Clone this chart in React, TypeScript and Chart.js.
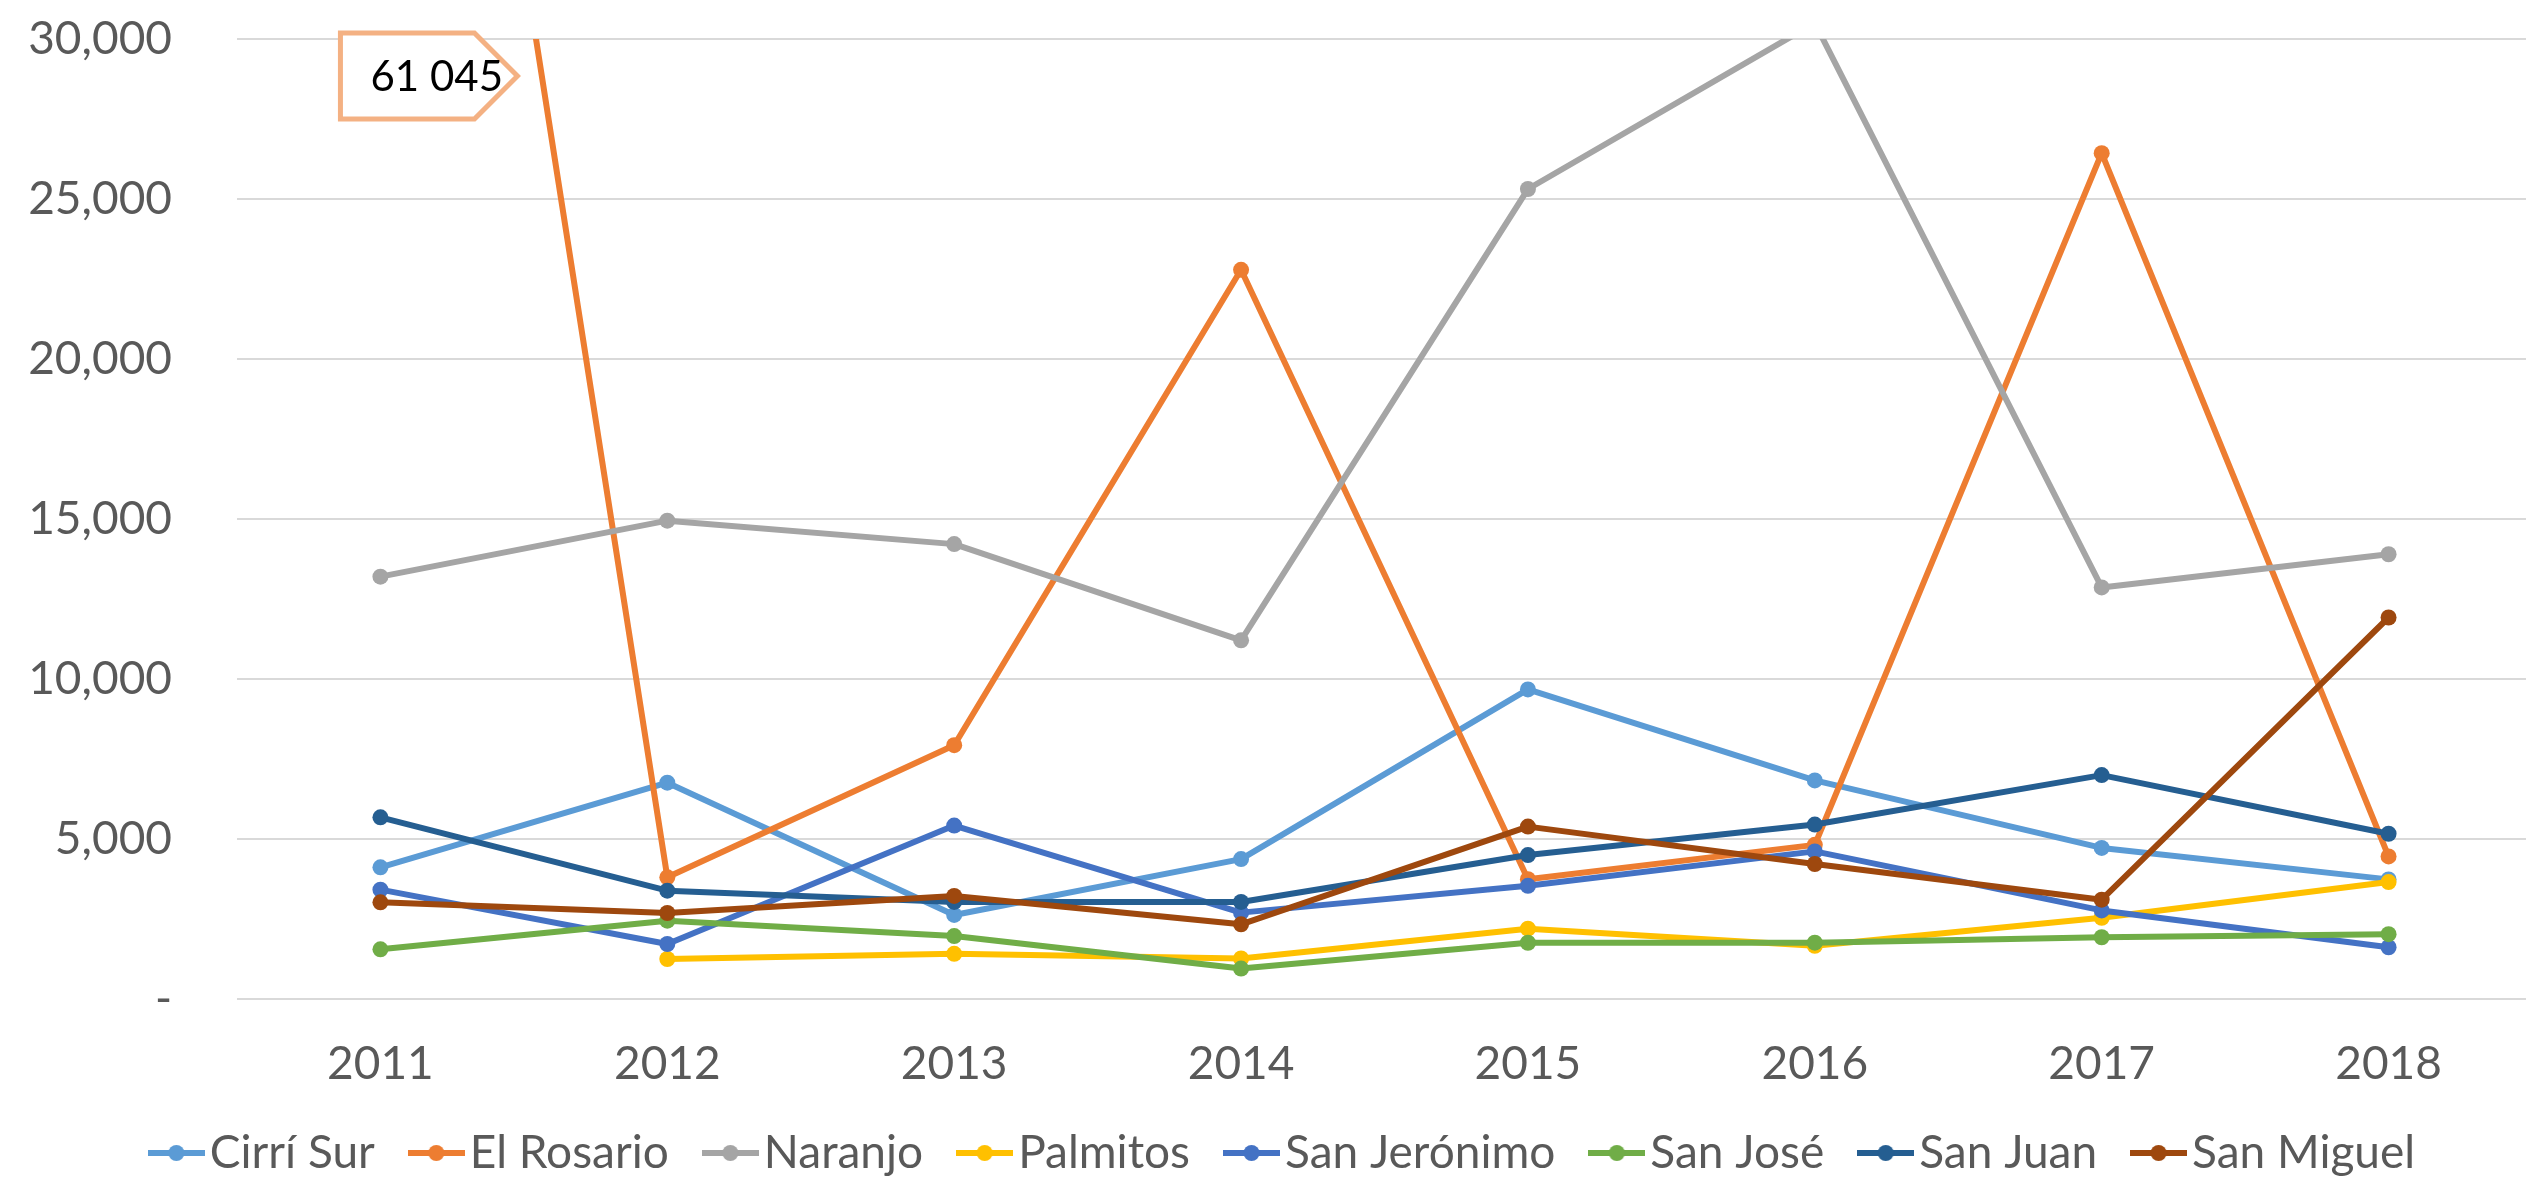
import React, { useEffect, useRef } from 'react';
import { Chart, registerables } from 'chart.js';

Chart.register(...registerables);

const years = ['2011', '2012', '2013', '2014', '2015', '2016', '2017', '2018'];
const seriesNames = ['Cirrí Sur', 'El Rosario', 'Naranjo', 'Palmitos', 'San Jerónimo', 'San José', 'San Juan', 'San Miguel'];
const cirriSur = [4115, 6759, 2626, 4372, 9674, 6830, 4721, 3738];
const elRosario = [61045, 3802, 7932, 22788, 3745, 4817, 26431, 4457];
const naranjo = [13199, 14948, 14215, 11209, 25312, 30500, 12861, 13899];
const palmitos = [null, 1250, 1412, 1266, 2197, 1665, 2540, 3654];
const sanJeronimo = [3417, 1719, 5419, 2699, 3536, 4613, 2768, 1618];
const sanJose = [1552, 2448, 1967, 952, 1757, 1761, 1929, 2025];
const sanJuan = [5677, 3385, 3033, 3033, 4498, 5452, 6997, 5164];
const sanMiguel = [3021, 2688, 3222, 2333, 5387, 4218, 3103, 11922];
const seriesColors = ['#5B9BD5', '#ED7D31', '#A5A5A5', '#FFC000', '#4472C4', '#70AD47', '#255E91', '#9E480E'];
const yTicks = [0, 5000, 10000, 15000, 20000, 25000, 30000];
const yMin = 0;
const yMax = 30000;

const FONT = "Lato, 'Open Sans', sans-serif";
const TEXT = '#595959';

function makeMarker(color: string) {
  const c = document.createElement('canvas');
  c.width = 57;
  c.height = 18;
  const g = c.getContext('2d')!;
  g.strokeStyle = color;
  g.lineWidth = 6;
  g.beginPath();
  g.moveTo(0, 9);
  g.lineTo(57, 9);
  g.stroke();
  g.fillStyle = color;
  g.beginPath();
  g.arc(28.5, 9, 8, 0, Math.PI * 2);
  g.fill();
  return c;
}

const legendShiftPlugin = {
  id: 'legendShift',
  afterLayout(chart: any) {
    if (chart.legend) {
      chart.legend.left += 24;
      chart.legend.right += 24;
    }
  },
};

const calloutPlugin = {
  id: 'callout',
  afterDatasetsDraw(chart: any) {
    const { ctx, chartArea, scales } = chart;
    const px = scales.x.getPixelForValue(0);
    const left = px - 40;
    const right = px + 94;
    const tip = px + 137;
    const top = chartArea.top - 6;
    const bottom = chartArea.top + 80;
    const mid = (top + bottom) / 2;
    ctx.save();
    ctx.beginPath();
    ctx.moveTo(left, top);
    ctx.lineTo(right, top);
    ctx.lineTo(tip, mid);
    ctx.lineTo(right, bottom);
    ctx.lineTo(left, bottom);
    ctx.closePath();
    ctx.fillStyle = '#FFFFFF';
    ctx.fill();
    ctx.strokeStyle = '#F4B183';
    ctx.lineWidth = 5;
    ctx.stroke();
    ctx.fillStyle = '#000000';
    ctx.font = `42px ${FONT}`;
    ctx.textAlign = 'left';
    ctx.textBaseline = 'middle';
    const txt = (elRosario[0] as number).toLocaleString('en-US').replace(/,/g, ' ');
    ctx.fillText(txt, left + 30, mid + 1);
    ctx.restore();
  },
};

export default function App() {
  const ref = useRef<HTMLCanvasElement>(null);
  useEffect(() => {
    const canvas = ref.current!;
    const allSeries = [cirriSur, elRosario, naranjo, palmitos, sanJeronimo, sanJose, sanJuan, sanMiguel];
    const markers = seriesColors.map((c) => makeMarker(c));
    const chart = new Chart(canvas, {
      type: 'line',
      data: {
        labels: years,
        datasets: allSeries.map((d, i) => ({
          label: seriesNames[i],
          data: d,
          borderColor: seriesColors[i],
          backgroundColor: seriesColors[i],
          pointBackgroundColor: seriesColors[i],
          pointBorderColor: seriesColors[i],
          pointBorderWidth: 0,
          pointRadius: 8,
          borderWidth: 6,
          borderJoinStyle: 'round',
          borderCapStyle: 'round',
          tension: 0,
          fill: false,
          order: allSeries.length - i,
        })),
      },
      options: {
        responsive: false,
        animation: false,
        devicePixelRatio: 1,
        layout: { padding: { left: 0, right: 7, top: 39, bottom: 0 } },
        plugins: {
          tooltip: { enabled: false },
          legend: {
            position: 'bottom',
            labels: {
              usePointStyle: true,
              pointStyleWidth: 21,
              padding: 51,
              color: TEXT,
              font: { family: FONT, size: 46 },
              generateLabels: (ch: any) =>
                ch.data.datasets.map((ds: any, i: number) => ({
                  text: ds.label,
                  pointStyle: markers[i],
                  fillStyle: seriesColors[i],
                  strokeStyle: seriesColors[i],
                  lineWidth: 0,
                  hidden: false,
                  datasetIndex: i,
                  fontColor: TEXT,
                })),
              sort: (a: any, b: any) => a.datasetIndex - b.datasetIndex,
            },
          },
        },
        scales: {
          x: {
            offset: true,
            grid: { display: false, drawTicks: false, offset: true },
            border: { display: false },
            ticks: { color: TEXT, font: { family: FONT, size: 46 }, padding: 38, maxRotation: 0, autoSkip: false },
            afterFit: (s: any) => {
              s.height = 80;
              s.paddingLeft = 0;
              s.paddingRight = 0;
            },
          },
          y: {
            min: yMin,
            max: yMax,
            grid: { color: '#D9D9D9', lineWidth: 2, drawTicks: false },
            border: { display: false },
            ticks: {
              color: TEXT,
              font: { family: FONT, size: 46 },
              padding: 65,
              includeBounds: false,
              callback: (v: any) => (Number(v) === 0 ? '-' : Number(v).toLocaleString('en-US')),
            },
            afterBuildTicks: (s: any) => {
              s.ticks = yTicks.map((v) => ({ value: v }));
            },
            afterFit: (s: any) => {
              s.width = 237;
              s.paddingTop = 0;
              s.paddingBottom = 0;
            },
          },
        },
      },
      plugins: [calloutPlugin, legendShiftPlugin],
    } as any);
    return () => chart.destroy();
  }, []);
  return (
    <div style={{ position: 'fixed', left: 0, top: 0, width: 2526, height: 1177, overflow: 'hidden', background: '#FFFFFF' }}>
      <canvas ref={ref} width={2540} height={1186} style={{ width: 2540, height: 1186, display: 'block' }} />
    </div>
  );
}
